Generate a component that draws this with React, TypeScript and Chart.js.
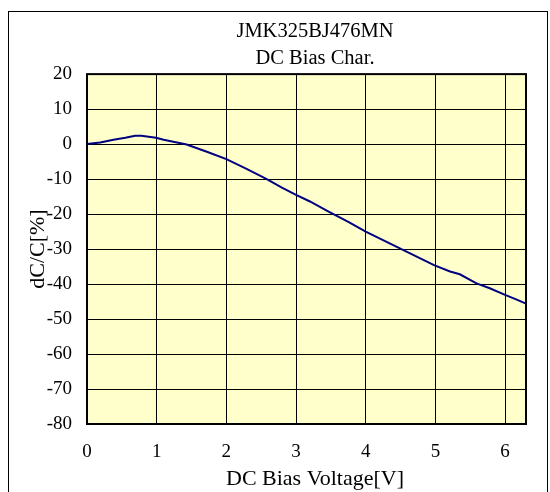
import React, { useEffect, useRef } from "react";
import { Chart, registerables } from "chart.js";

Chart.register(...registerables);

const voltage = [0, 0.19, 0.38, 0.55, 0.69, 0.78, 0.99, 1.1, 1.43, 1.72, 2.0, 2.29, 2.58, 2.79, 3.0, 3.2, 3.44, 3.75, 4.0, 4.49, 4.98, 5.21, 5.35, 5.59, 5.78, 6.0, 6.15, 6.3];
const dcRatio = [0, 0.47, 1.24, 1.8, 2.4, 2.4, 1.8, 1.24, -0.1, -2.2, -4.3, -7.1, -10.0, -12.4, -14.5, -16.4, -19.0, -22.2, -25.0, -29.8, -34.6, -36.4, -37.2, -39.8, -41.2, -43.1, -44.3, -45.6];
const xTickValues = [0, 1, 2, 3, 4, 5, 6];
const yTickValues = [-80, -70, -60, -50, -40, -30, -20, -10, 0, 10, 20];
const titleLines = ["JMK325BJ476MN", "DC Bias Char."];
const xAxisTitle = "DC Bias Voltage[V]";
const yAxisTitle = "dC/C[%]";

const FONT = '"Liberation Serif", "Times New Roman", serif';

export default function App() {
  const ref = useRef<HTMLCanvasElement>(null);

  useEffect(() => {
    if (!ref.current) return;
    const plotFrame = {
      id: "plotFrame",
      beforeDraw(chart: any) {
        const { ctx, chartArea } = chart;
        ctx.save();
        ctx.fillStyle = "#FFFFCC";
        ctx.fillRect(chartArea.left, chartArea.top, chartArea.width, chartArea.height);
        ctx.restore();
      },
      afterDraw(chart: any) {
        const { ctx, chartArea } = chart;
        ctx.save();
        ctx.strokeStyle = "#000";
        ctx.lineWidth = 2;
        ctx.strokeRect(chartArea.left, chartArea.top, chartArea.width, chartArea.height);
        ctx.restore();
      },
    };
    // the reference centres its titles a little right of the plot centre
    const titleShift = {
      id: "titleShift",
      afterLayout(chart: any) {
        const t = chart.titleBlock;
        if (t) {
          t.left += 8.5;
          t.right += 8.5;
        }
        const sx = chart.scales.x;
        if (sx) {
          sx.left += 8.5;
          sx.right += 8.5;
        }
      },
    };

    const chart = new Chart(ref.current, {
      type: "line",
      data: {
        datasets: [
          {
            data: voltage.map((v, i) => ({ x: v, y: dcRatio[i] })),
            borderColor: "#000080",
            borderWidth: 2,
            pointRadius: 0,
            tension: 0,
            fill: false,
            clip: false,
          },
        ],
      },
      options: {
        animation: false,
        responsive: true,
        maintainAspectRatio: false,
        layout: { padding: { left: 25, right: 24, top: 0, bottom: 0 } },
        plugins: {
          legend: { display: false },
          tooltip: { enabled: false },
          title: {
            display: true,
            text: titleLines,
            color: "#000",
            fullSize: false,
            font: { family: FONT, size: 20.5, weight: "normal", lineHeight: 1.32 },
            padding: { top: 18.5, bottom: 1.5 },
          },
        },
        scales: {
          x: {
            type: "linear",
            min: 0,
            max: 6.3,
            afterBuildTicks: (s: any) => {
              s.ticks = xTickValues.map((value) => ({ value }));
            },
            afterFit: (s: any) => {
              s.height = 68;
            },
            ticks: {
              color: "#000",
              font: { family: FONT, size: 19 },
              padding: 17,
              maxRotation: 0,
              autoSkip: false,
            },
            grid: { color: "#000", lineWidth: 1, drawTicks: false },
            border: { display: false },
            title: {
              display: true,
              text: xAxisTitle,
              color: "#000",
              font: { family: FONT, size: 22 },
              padding: { top: 0, bottom: 0 },
            },
          },
          y: {
            type: "linear",
            min: -80,
            max: 20,
            afterBuildTicks: (s: any) => {
              s.ticks = yTickValues.map((value) => ({ value }));
            },
            afterFit: (s: any) => {
              s.width = 62;
            },
            ticks: {
              color: "#000",
              font: { family: FONT, size: 19 },
              padding: 15,
              autoSkip: false,
            },
            grid: { color: "#000", lineWidth: 1, drawTicks: false },
            border: { display: false },
            title: {
              display: true,
              text: yAxisTitle,
              color: "#000",
              font: { family: FONT, size: 22 },
              padding: { top: 0, bottom: 0 },
            },
          },
        },
      },
      plugins: [plotFrame, titleShift],
    });
    return () => chart.destroy();
  }, []);

  return (
    <>
      <div
        style={{
          position: "fixed",
          left: 0,
          top: 0,
          width: 550,
          height: 492,
          background: "#fff",
        }}
      >
        <canvas ref={ref} />
      </div>
      <div
        style={{
          position: "fixed",
          left: 8,
          top: 11,
          width: 540,
          height: 500,
          border: "1px solid #000",
          boxSizing: "border-box",
          pointerEvents: "none",
        }}
      />
    </>
  );
}
